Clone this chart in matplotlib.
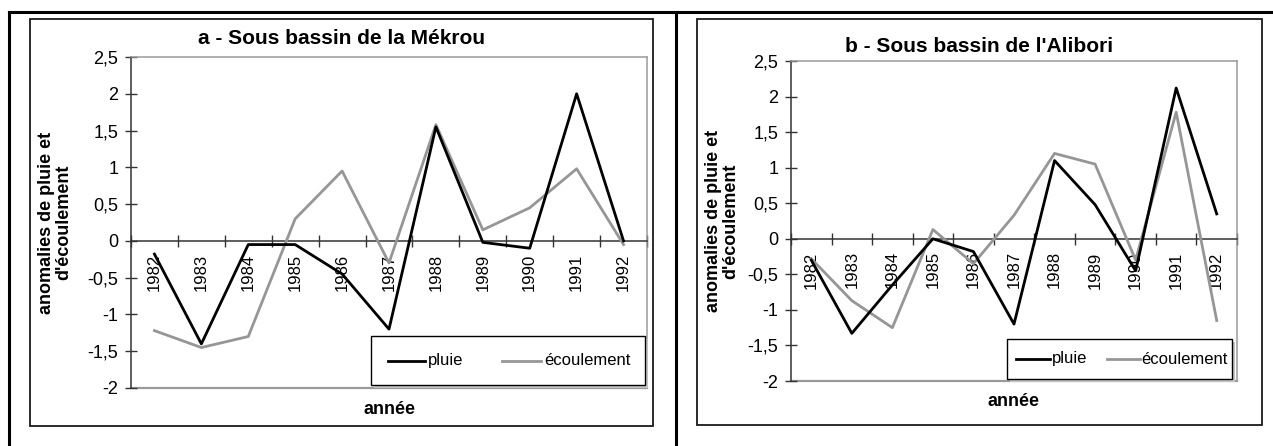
import matplotlib
matplotlib.use("Agg")
import matplotlib.pyplot as plt
from matplotlib.patches import Rectangle
from matplotlib.lines import Line2D
from matplotlib.ticker import FuncFormatter, FixedLocator

plt.rcParams['font.family'] = ['Liberation Sans', 'DejaVu Sans']

years = ["1982", "1983", "1984", "1985", "1986", "1987", "1988", "1989", "1990", "1991", "1992"]

mekrou_pluie = [-0.18, -1.40, -0.05, -0.05, -0.45, -1.20, 1.55, -0.02, -0.10, 2.00, 0.00]
mekrou_ecoulement = [-1.22, -1.45, -1.30, 0.30, 0.95, -0.30, 1.58, 0.15, 0.45, 0.98, -0.05]

alibori_pluie = [-0.30, -1.33, -0.65, 0.00, -0.18, -1.20, 1.10, 0.48, -0.45, 2.12, 0.35]
alibori_ecoulement = [-0.28, -0.87, -1.25, 0.13, -0.35, 0.33, 1.20, 1.05, -0.30, 1.78, -1.15]

titles = ["a - Sous bassin de la Mékrou", "b - Sous bassin de l'Alibori"]
ylabel = "anomalies de pluie et\nd'écoulement"
xlabel = "année"
series_names = ["pluie", "écoulement"]
yticks = [-2, -1.5, -1, -0.5, 0, 0.5, 1, 1.5, 2, 2.5]

W, H = 1273, 446
fig = plt.figure(figsize=(W / 100, H / 100), dpi=100)


def fx(x):
    return x / W


def fy(y):
    return 1 - y / H


def add_px_axes(x0, y0, x1, y1):
    return fig.add_axes([fx(x0), fy(y1), (x1 - x0) / W, (y1 - y0) / H])


# table-like outer rules
fig.add_artist(Line2D([fx(9), 1], [fy(12), fy(12)], color="black", lw=2.2))
fig.add_artist(Line2D([fx(9), fx(9)], [fy(12), 0], color="black", lw=2.2))
fig.add_artist(Line2D([fx(676), fx(676)], [fy(12), 0], color="black", lw=2.2))


def comma_fmt(v, pos):
    return ("%g" % v).replace(".", ",")


def draw_legend(box, lines, names, handles_x, text_x):
    x0, y0, x1, y1 = box
    # drop shadow, then the white box with a black edge
    fig.add_artist(Rectangle((fx(x0 + 3), fy(y1 + 3)), (x1 - x0) / W, (y1 - y0) / H,
                             facecolor="#c4c4c4", edgecolor="none", zorder=5))
    fig.add_artist(Rectangle((fx(x0), fy(y1)), (x1 - x0) / W, (y1 - y0) / H,
                             facecolor="white", edgecolor="black", lw=1.0, zorder=6))
    yc = (y0 + y1) / 2
    for ln, name, (hx0, hx1), tx in zip(lines, names, handles_x, text_x):
        fig.add_artist(Line2D([fx(hx0), fx(hx1)], [fy(yc), fy(yc)], color=ln.get_color(),
                              lw=ln.get_linewidth(), zorder=7))
        fig.text(fx(tx), fy(yc), name, ha="left", va="center", fontsize=12, zorder=7)


def panel(frame, plot, ylabel_x, legend_box, handles_x, text_x, pluie, ecoul, title):
    fx0, fy0, fx1, fy1 = frame
    fig.add_artist(Rectangle((fx(fx0), fy(fy1)), (fx1 - fx0) / W, (fy1 - fy0) / H,
                             fill=False, edgecolor="#1a1a1a", lw=1.3))
    ax = add_px_axes(*plot)
    xs = list(range(len(years)))
    l1, = ax.plot(xs, pluie, color="black", lw=2.0, zorder=4)
    l2, = ax.plot(xs, ecoul, color="#969696", lw=2.0, zorder=3)
    ax.set_xlim(-0.5, len(years) - 0.5)
    ax.set_ylim(-2, 2.5)

    ax.spines["left"].set_color("#333333")
    ax.spines["left"].set_linewidth(1.1)
    ax.spines["bottom"].set_position(("data", 0))
    ax.spines["bottom"].set_color("#333333")
    ax.spines["bottom"].set_linewidth(1.1)
    for s in ("top", "right"):
        ax.spines[s].set_color("#9a9a9a")
        ax.spines[s].set_linewidth(1.1)
    ax.axhline(-2, color="#9a9a9a", lw=1.6, clip_on=False, zorder=1)

    ax.yaxis.set_major_locator(FixedLocator(yticks))
    ax.yaxis.set_major_formatter(FuncFormatter(comma_fmt))
    ax.tick_params(axis="y", direction="inout", length=8, width=1.0, color="#333333",
                   labelsize=13, pad=5)

    ax.set_xticks(xs)
    ax.set_xticklabels(years, rotation=90, fontsize=12)
    ax.tick_params(axis="x", which="major", length=0, pad=9)
    ax.set_xticks([i - 0.5 for i in range(len(years) + 1)], minor=True)
    ax.tick_params(axis="x", which="minor", direction="inout", length=8, width=1.0,
                   color="#333333")
    for lab in ax.get_xticklabels():
        lab.set_verticalalignment("top")

    fig.text(fx((fx0 + fx1) / 2), fy(39 if fx0 < 600 else 46), title, ha="center",
             va="center", fontsize=15, fontweight="bold")
    fig.text(fx((plot[0] + plot[2]) / 2), fy(plot[3] + 21), xlabel, ha="center",
             va="center", fontsize=13, fontweight="bold")
    fig.text(fx(ylabel_x), fy((plot[1] + plot[3]) / 2), ylabel, ha="center", va="center",
             rotation=90, fontsize=13, fontweight="bold", linespacing=1.0)

    draw_legend(legend_box, [l1, l2], series_names, handles_x, text_x)
    return ax


panel((30, 19, 653, 426), (131, 57, 647, 388), 55,
      (371, 336, 645, 385), [(388, 425), (502, 541)], [428, 544],
      mekrou_pluie, mekrou_ecoulement, titles[0])
panel((697, 19, 1262, 425), (791, 61, 1237, 381), 722,
      (1007, 339, 1232, 379), [(1016, 1050), (1107, 1140)], [1052, 1141],
      alibori_pluie, alibori_ecoulement, titles[1])

fig.savefig("out.png", dpi=100)
